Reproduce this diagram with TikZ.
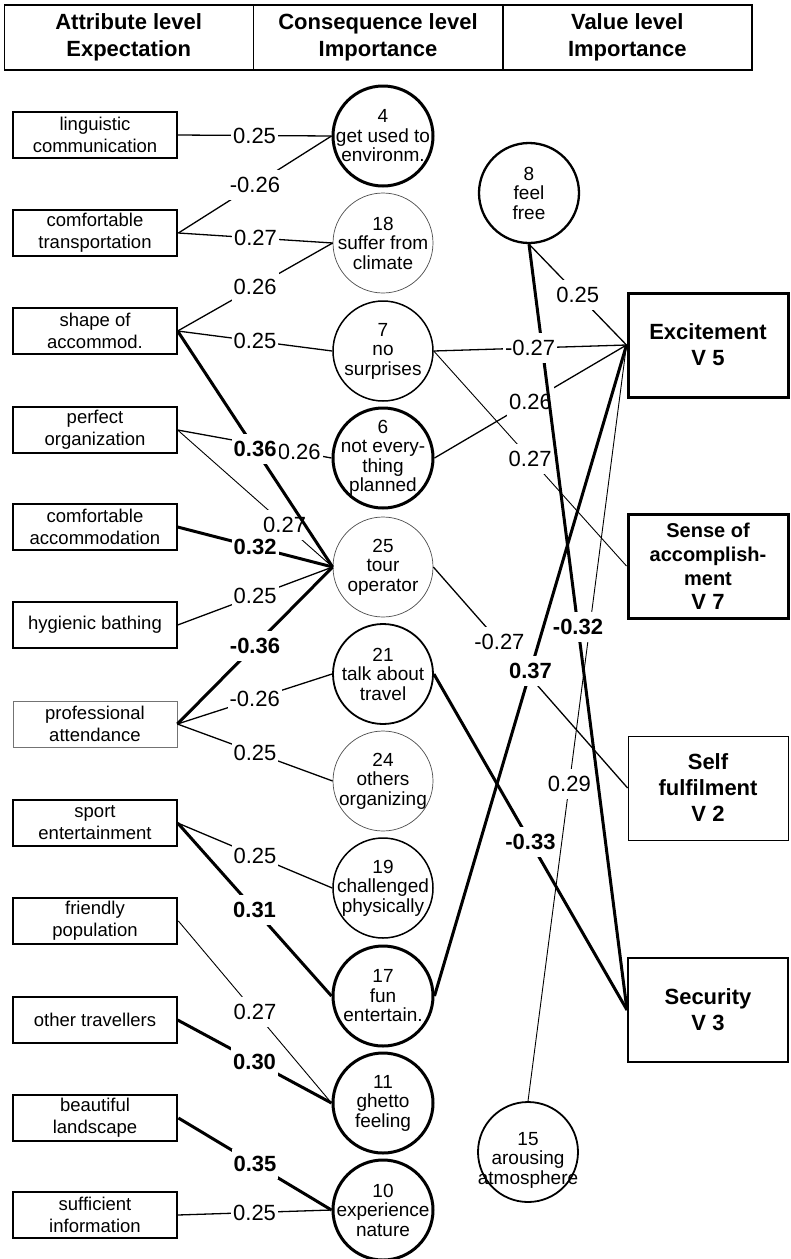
\documentclass[tikz,border=0pt]{standalone}
\usepackage{fontspec}
\setmainfont{Liberation Sans}
\begin{document}
\begin{tikzpicture}[x=1pt,y=-1pt,
  every node/.style={inner sep=0pt},
  hdr/.style={draw, line width=1.4pt, minimum width=249pt, minimum height=65pt,
    align=center, font=\fontsize{22}{27}\selectfont\bfseries},
  attr/.style={draw, line width=1.3pt, minimum width=164pt, minimum height=46pt,
    align=center, font=\fontsize{18.5}{22}\selectfont},
  attrthick/.style={attr, line width=2.8pt},
  attrthin/.style={attr, line width=0.7pt, draw=black!55},
  cons/.style={circle, draw, line width=1.5pt, minimum size=100pt},
  consthick/.style={cons, line width=3pt},
  consthin/.style={cons, line width=0.7pt, draw=black!70},
  ctext/.style={align=center, font=\fontsize{19}{19.5}\selectfont, inner sep=0pt},
  val/.style={draw, line width=3pt, minimum width=160pt, minimum height=104pt,
    align=center, font=\fontsize{22}{26}\selectfont\bfseries},
  lthin/.style={line width=0.9pt},
  lnorm/.style={line width=1.3pt},
  lthick/.style={line width=3pt},
  lab/.style={fill=white, inner xsep=2pt, inner ysep=0pt, minimum height=30pt,
    font=\fontsize{22}{22}\selectfont},
  labb/.style={lab, font=\fontsize{22}{22}\selectfont\bfseries}
]
\useasboundingbox (0,0) rectangle (791,1259);

% column headings
\node[hdr] (h1) at (128.7,37.5) {Attribute level\\Expectation};
\node[hdr] (h2) at (378,37.5) {Consequence level\\Importance};
\node[hdr] (h3) at (627.3,37.5) {Value level\\Importance};

% attribute level
\node[attr]      (a1)  at (95,135)  {linguistic\\communication};
\node[attrthick] (a2)  at (95,233)  {comfortable\\transportation};
\node[attr]      (a3)  at (95,331)  {shape of\\accommod.};
\node[attr]      (a4)  at (95,430)  {perfect\\organization};
\node[attr]      (a5)  at (95,527)  {comfortable\\accommodation};
\node[attr]      (a6)  at (95,625)  {hygienic bathing};
\node[attrthin]  (a7)  at (95,724)  {professional\\attendance};
\node[attr]      (a8)  at (95,823)  {sport\\entertainment};
\node[attrthick] (a9)  at (95,921)  {friendly\\population};
\node[attr]      (a10) at (95,1020) {other travellers};
\node[attrthick] (a11) at (95,1118) {beautiful\\landscape};
\node[attr]      (a12) at (95,1215) {sufficient\\information};

% consequence level
\node[consthick] (c4)  at (383,136)  [label={[ctext]center:{4\\get used to\\environm.}}] {};
\node[consthin]  (c18) at (383,243)  [label={[ctext]center:{18\\suffer from\\climate}}] {};
\node[cons]      (c7)  at (383,351)  [label={[ctext]center:{7\\no\\surprises}}] {};
\node[consthick] (c6)  at (383,458)  [label={[ctext]center:{6\\not every-\\thing\\planned}}] {};
\node[consthin]  (c25) at (383,567)  [label={[ctext]center:{25\\tour\\operator}}] {};
\node[cons, line width=1.8pt] (c21) at (383,674) [label={[ctext]center:{21\\talk about\\travel}}] {};
\node[consthin]  (c24) at (383,781)  [label={[ctext]center:{24\\others\\organizing}}] {};
\node[cons]      (c19) at (383,888)  [label={[ctext]center:{19\\challenged\\physically}}] {};
\node[consthick] (c17) at (383,996)  [label={[ctext]center:{17\\fun\\entertain.}}] {};
\node[consthick] (c11) at (383,1103) [label={[ctext]center:{11\\ghetto\\feeling}}] {};
\node[consthick] (c10) at (383,1210) [label={[ctext]center:{10\\experience\\nature}}] {};
\node[cons, line width=2.3pt] (c8)  at (529,193)  [label={[ctext]center:{8\\feel\\free}}] {};
\node[cons, line width=1.8pt] (c15) at (528,1152)
  [label={[ctext, yshift=-8pt]center:{15\\arousing\\atmosphere}}] {};

% value level
\node[val] (exc) at (708,345) {Excitement\\V 5};
\node[val, font=\fontsize{20}{24}\selectfont\bfseries] (soa) at (708,566)
  {Sense of\\accomplish-\\ment\\{\fontsize{22}{24}\selectfont V 7}};
\node[val, line width=0.8pt] (sf) at (708,788) {Self\\fulfilment\\V 2};
\node[val, line width=2pt] (sec) at (708,1010) {Security\\V 3};

% attribute -> consequence links
\draw[lnorm]  (a1.east) -- node[lab] {0.25} (c4.west);
\draw[lnorm]  (a2.east) -- node[lab] {-0.26} (c4.west);
\draw[lnorm]  (a2.east) -- node[lab] {0.27} (c18.west);
\draw[lnorm]  (a3.east) -- node[lab] {0.26} (c18.west);
\draw[lnorm]  (a3.east) -- node[lab] {0.25} (c7.west);
\draw[lnorm]  (a4.east) -- node[lab, pos=0.79] {0.26} (c6.west);
\draw[lthin]  (a4.east) -- node[lab, pos=0.69] {0.27} (c25.west);
\draw[lthick] (a3.east) -- node[labb] {0.36} (c25.west);
\draw[lthick] (a5.east) -- node[labb] {0.32} (c25.west);
\draw[lnorm]  (a6.east) -- node[lab] {0.25} (c25.west);
\draw[lthick] (a7.east) -- node[labb] {-0.36} (c25.west);
\draw[lnorm]  (a7.east) -- node[lab] {-0.26} (c21.west);
\draw[lnorm]  (a7.east) -- node[lab] {0.25} (c24.west);
\draw[lnorm]  (a8.east) -- node[lab] {0.25} (c19.west);
\draw[lthick] (a8.east) -- node[labb] {0.31} (c17.west);
\draw[lthin]  (a9.east) -- node[lab] {0.27} (c11.west);
\draw[lthick] (a10.east) -- node[labb] {0.30} (c11.west);
\draw[lthick] (a11.east) -- node[labb] {0.35} (c10.west);
\draw[lnorm]  (a12.east) -- node[lab] {0.25} (c10.west);

% consequence -> value links
\draw[lnorm]  (c6.east) -- node[lab] {0.26} (exc.west);
\draw[lthin]  (c7.east) -- node[lab] {0.27} (soa.west);
\draw[lthin]  (c15.north) -- node[lab, pos=0.42] {0.29} (exc.west);
\draw[lnorm]  (c25.east) -- node[lab, pos=0.34] {-0.27} (sf.west);
\draw[lthick] (c8.south) -- node[labb] {-0.32} (sec.west);
\draw[lnorm]  (c8.south) -- node[lab] {0.25} (exc.west);
\draw[lnorm]  (c7.east) -- node[lab] {-0.27} (exc.west);
\draw[lthick] (c17.east) -- node[labb] {0.37} (exc.west);
\draw[lthick] (c21.east) -- node[labb] {-0.33} (sec.west);
\end{tikzpicture}
\end{document}
